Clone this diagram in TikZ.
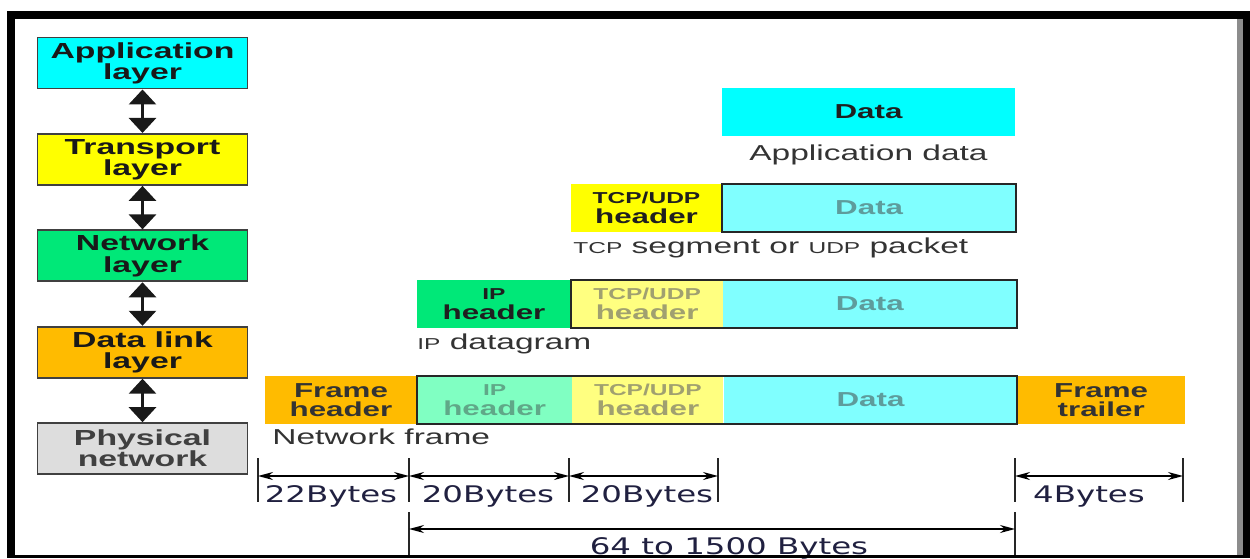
\documentclass[tikz,border=0pt]{standalone}
\usepackage{fontspec}
\setmainfont{Liberation Sans}[FakeStretch=1.55]
\newfontfamily\bytesfont{DejaVu Sans}[FakeStretch=1.42]
\usepackage{xcolor}
\usetikzlibrary{arrows.meta, positioning}
\definecolor{appcyan}{HTML}{00FFFF}
\definecolor{tcpyellow}{HTML}{FFFF00}
\definecolor{ipgreen}{HTML}{00E878}
\definecolor{linkorange}{HTML}{FFBB00}
\definecolor{physgrey}{HTML}{DDDDDD}
\definecolor{palecyan}{HTML}{80FFFF}
\definecolor{paleyellow}{HTML}{FFFF80}
\definecolor{palegreen}{HTML}{80FFC2}
\definecolor{fadecyan}{HTML}{5E9C9C}
\definecolor{fadeyellow}{HTML}{A0A070}
\definecolor{fadegreen}{HTML}{60A888}
\definecolor{bytesblue}{HTML}{202040}
\newcommand{\smallcap}[1]{{\fontsize{9}{9}\selectfont #1}}

\begin{document}
\begin{tikzpicture}[
  x=0.02cm, y=-0.02cm,
  layerbox/.style={draw=black!75, line width=1.1pt, minimum width=4.2cm,
                   minimum height=1.02cm, inner sep=0pt, align=center,
                   font=\fontsize{12.4}{12}\selectfont\bfseries, text=black!90},
  seg/.style={minimum height=0.96cm, inner sep=0pt, align=center,
              font=\fontsize{11.5}{11}\selectfont\bfseries, text=black!88},
  caption/.style={inner sep=0pt, font=\fontsize{12.3}{13}\selectfont, text=black!80},
  updown/.style={{Triangle[length=3mm,width=5.4mm]}-{Triangle[length=3mm,width=5.4mm]},
                 line width=1.7pt, black!90},
  tickline/.style={line width=1.1pt, black!85},
  dim/.style={{Stealth[length=3mm,width=1.6mm]}-{Stealth[length=3mm,width=1.6mm]},
              line width=0.8pt},
  bytes/.style={font=\bytesfont\fontsize{13}{14}\selectfont, text=bytesblue,
                inner sep=0pt, anchor=base}
]
\useasboundingbox (0,0) rectangle (1250,558);

% Layer stack (left)
\node[layerbox, fill=appcyan] (app) at (142.5,63) {Application\\layer};
\node[layerbox, fill=tcpyellow, below=0.87cm of app] (trans) {Transport\\layer};
\node[layerbox, fill=ipgreen, below=0.87cm of trans] (net) {Network\\layer};
\node[layerbox, fill=linkorange, below=0.87cm of net] (link) {Data link\\layer};
\node[layerbox, fill=physgrey, text=black!75, below=0.87cm of link] (phys) {Physical\\network};

\draw[updown] (app) -- (trans);
\draw[updown] (trans) -- (net);
\draw[updown] (net) -- (link);
\draw[updown] (link) -- (phys);

% Row 1: application data
\node[seg, fill=appcyan, minimum width=5.86cm] (r1data) at (868.5,112) {Data};
\node[caption, below=0.16cm of r1data] (r1cap) {Application data};

% Row 2: TCP segment
\node[seg, fill=tcpyellow, minimum width=3.02cm] (r2tcp) at (646.5,208) {\smallcap{TCP/UDP}\\header};
\node[seg, fill=palecyan, text=fadecyan, minimum width=5.86cm, right=0pt of r2tcp] (r2data) {Data};
\draw[line width=1.1pt, black!85] (r2data.north west) rectangle (r2data.south east);
\node[caption, anchor=north west] (r2cap) at (573,237) {\smallcap{TCP} segment or \smallcap{UDP} packet};

% Row 3: IP datagram
\node[seg, fill=ipgreen, minimum width=3.08cm] (r3ip) at (494,304) {\smallcap{IP}\\header};
\node[seg, fill=paleyellow, text=fadeyellow, minimum width=3.02cm, right=0pt of r3ip] (r3tcp) {\smallcap{TCP/UDP}\\header};
\node[seg, fill=palecyan, text=fadecyan, minimum width=5.86cm, right=0pt of r3tcp] (r3data) {Data};
\draw[line width=1.1pt, black!85] (r3tcp.north west) rectangle (r3data.south east);
\node[caption, anchor=north west] (r3cap) at (417,333) {\smallcap{IP} datagram};

% Row 4: network frame
\node[seg, fill=linkorange, text=black!80, minimum width=3.04cm] (r4fh) at (341,400) {Frame\\header};
\node[seg, fill=palegreen, text=fadegreen, minimum width=3.08cm, right=0pt of r4fh] (r4ip) {\smallcap{IP}\\header};
\node[seg, fill=paleyellow, text=fadeyellow, minimum width=3.02cm, right=0pt of r4ip] (r4tcp) {\smallcap{TCP/UDP}\\header};
\node[seg, fill=palecyan, text=fadecyan, minimum width=5.86cm, right=0pt of r4tcp] (r4data) {Data};
\node[seg, fill=linkorange, text=black!80, minimum width=3.34cm, right=0pt of r4data] (r4ft) {Frame\\trailer};
\draw[line width=1.1pt, black!85] (r4ip.north west) rectangle (r4data.south east);
\node[caption, anchor=north west] (r4cap) at (272,428) {Network frame};

% Byte counts
\coordinate (t1) at (258,476);
\coordinate (t2) at (409,476);
\coordinate (t3) at (569,476);
\coordinate (t4) at (718,476);
\coordinate (t5) at (1015,476);
\coordinate (t6) at (1183,476);
\foreach \x in {258,409,569,718,1015,1183}
  \draw[tickline] (\x,458) -- (\x,502);
\draw[dim] (t1) -- (t2);
\draw[dim] (t2) -- (t3);
\draw[dim] (t3) -- (t4);
\draw[dim] (t5) -- (t6);
\node[bytes] (b1) at (331,502) {22Bytes};
\node[bytes] (b2) at (488,502) {20Bytes};
\node[bytes] (b3) at (647,502) {20Bytes};
\node[bytes] (b4) at (1089,502) {4Bytes};

\coordinate (s1) at (409,529);
\coordinate (s2) at (1015,529);
\draw[tickline] (409,512) -- (409,558);
\draw[tickline] (1015,512) -- (1015,558);
\draw[dim] (s1) -- (s2);
\node[bytes] (btotal) at (729,554) {64 to 1500 Bytes};

% Slide frame
\fill[black] (7,11) rectangle (1250,19);
\fill[black] (7,11) rectangle (15,558);
\fill[black!45] (1237,19) rectangle (1243,558);
\fill[black] (1243,11) rectangle (1250,558);
\fill[black] (7,555) rectangle (1250,558);

\end{tikzpicture}
\end{document}
